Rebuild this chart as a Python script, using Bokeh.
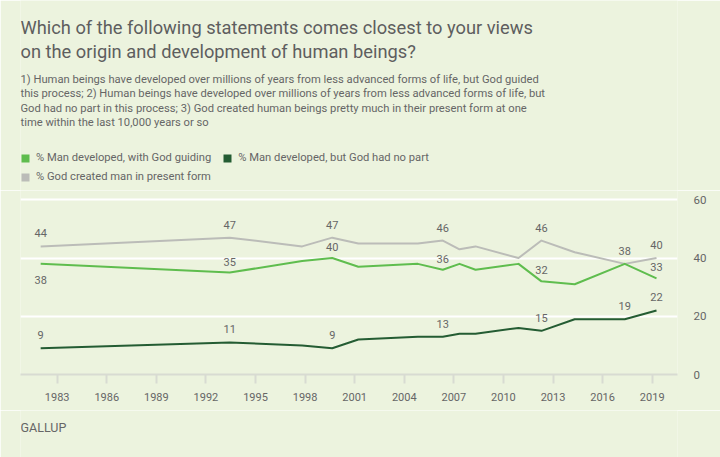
from bokeh.plotting import figure
from bokeh.models import Range1d, Label, Legend, LegendItem, FixedTicker
from bokeh.layouts import column
from bokeh.embed import file_html
from bokeh.resources import INLINE
from bokeh.core.properties import value

# ---- data ----
years = [1982.0, 1993.44, 1997.82, 1999.64, 2001.22, 2004.82, 2006.33, 2007.34,
         2008.31, 2010.91, 2012.30, 2014.31, 2017.34, 2019.26]
god_guided = [38, 35, 39, 40, 37, 38, 36, 38, 36, 38, 32, 31, 38, 33]
no_god = [9, 11, 10, 9, 12, 13, 13, 14, 14, 16, 15, 19, 19, 22]
god_created = [44, 47, 44, 47, 45, 45, 46, 43, 44, 40, 46, 42, 38, 40]
series_names = ["% Man developed, with God guiding",
                "% Man developed, but God had no part",
                "% God created man in present form"]
labels_guided_above = [1, 3, 6, 10, 13]
labels_guided_below = [0]
labels_no_god = [0, 1, 3, 6, 10, 12, 13]
labels_created = [0, 1, 3, 6, 10, 12, 13]
x_ticks = [1983, 1986, 1989, 1992, 1995, 1998, 2001, 2004, 2007, 2010, 2013, 2016, 2019]
y_ticks = [0, 20, 40, 60]
grid_ticks = [20, 40, 60]

title_lines = ["Which of the following statements comes closest to your views",
               "on the origin and development of human beings?"]
subtitle_lines = [
    "1) Human beings have developed over millions of years from less advanced forms of life, but God guided",
    "this process; 2) Human beings have developed over millions of years from less advanced forms of life, but",
    "God had no part in this process; 3) God created human beings pretty much in their present form at one",
    "time within the last 10,000 years or so",
]
source_text = "GALLUP"

# ---- style ----
BG = "#ecf3de"
GREEN = "#5fbd4e"
DARK = "#245c33"
GRAY = "#bbbcb8"
TEXT = "#666666"
TITLE = "#5e5e5e"
AXIS = "#d8dbd2"
FONT = "Roboto"
W = 720
H_HEAD, H_CHART, H_FOOT = 190, 220, 47
LEFT, RIGHT = 20, 677   # frame edges shared by all stacked figures
NAN = float("nan")


def blank(height, y_top):
    f = figure(width=W, height=height, output_backend="svg", toolbar_location=None,
               x_range=Range1d(LEFT, RIGHT), y_range=Range1d(y_top + height, y_top),
               x_axis_location=None, y_axis_location=None,
               min_border_left=LEFT, min_border_right=W - RIGHT,
               min_border_top=0, min_border_bottom=0,
               background_fill_color=BG, border_fill_color=BG, outline_line_color=None)
    f.xgrid.visible = False
    f.ygrid.visible = False
    return f


# ---- header ----
head = blank(H_HEAD, 0)
for i, t in enumerate(title_lines):
    head.add_layout(Label(x=20, y=27.2 + 24 * i, text=t, text_font=FONT, text_font_size="18.3px",
                          text_color=TITLE, text_baseline="middle"))
for i, t in enumerate(subtitle_lines):
    head.add_layout(Label(x=20, y=79.3 + 14.1 * i, text=t, text_font=FONT, text_font_size="11.2px",
                          text_color=TEXT, text_baseline="middle"))

# legend proxies (no visible marks)
r_g = head.vbar(x=[NAN], top=[NAN], width=1, fill_color=GREEN, line_color=None)
r_d = head.vbar(x=[NAN], top=[NAN], width=1, fill_color=DARK, line_color=None)
r_c = head.vbar(x=[NAN], top=[NAN], width=1, fill_color=GRAY, line_color=None)


def make_legend(items, loc):
    return Legend(items=items, orientation="horizontal", location=loc,
                  glyph_width=10, glyph_height=10, label_height=10, label_standoff=6,
                  spacing=11, padding=0, margin=0, border_line_color=None,
                  background_fill_alpha=0, label_text_font=FONT,
                  label_text_font_size="11.2px", label_text_color=TEXT)


head.add_layout(make_legend([LegendItem(label=series_names[0], renderers=[r_g]),
                             LegendItem(label=series_names[1], renderers=[r_d])], (0, 26)))
head.add_layout(make_legend([LegendItem(label=series_names[2], renderers=[r_c])], (0, 7)))

# ---- chart ----
p = figure(width=W, height=H_CHART, output_backend="svg", toolbar_location=None,
           x_range=Range1d(1980.78, 2020.53), y_range=Range1d(0, 63.2),
           y_axis_location="right",
           min_border_left=LEFT, min_border_right=W - RIGHT, min_border_top=0, min_border_bottom=36,
           background_fill_color=BG, border_fill_color=BG, outline_line_color=None)

xa = p.xaxis[0]
xa.ticker = FixedTicker(ticks=x_ticks)
xa.axis_line_color = AXIS
xa.axis_line_width = 2
xa.major_tick_line_color = AXIS
xa.major_tick_line_width = 2
xa.major_tick_in = 0
xa.major_tick_out = 9
xa.minor_tick_line_color = None
xa.major_label_standoff = 9
xa.major_label_text_font = FONT
xa.major_label_text_font_size = "11px"
xa.major_label_text_color = TEXT

ya = p.yaxis[0]
ya.ticker = FixedTicker(ticks=y_ticks)
ya.axis_line_color = None
ya.major_tick_line_color = None
ya.minor_tick_line_color = None
ya.major_label_standoff = 10
ya.major_label_text_font = FONT
ya.major_label_text_font_size = "11.5px"
ya.major_label_text_color = TEXT

p.xgrid.visible = False
p.ygrid.ticker = FixedTicker(ticks=grid_ticks)
p.ygrid.grid_line_color = "white"
p.ygrid.grid_line_width = 2

for vals, col in [(god_created, GRAY), (god_guided, GREEN), (no_god, DARK)]:
    p.line(years, vals, line_color=col, line_width=2, line_join="round")


def add_labels(vals, idx, offset):
    p.text(x=[years[i] for i in idx], y=[vals[i] for i in idx],
           text=[str(vals[i]) for i in idx],
           text_align="center", text_baseline="middle", y_offset=offset,
           text_font=value(FONT), text_font_size="11px", text_color=TEXT)


add_labels(god_created, labels_created, -13)
add_labels(god_guided, labels_guided_above, -11)
add_labels(god_guided, labels_guided_below, 16.5)
add_labels(no_god, labels_no_god, -13)

# ---- footer ----
foot = blank(H_FOOT, H_HEAD + H_CHART)
foot.add_layout(Label(x=20, y=426.8, text=source_text, text_font=FONT, text_font_size="12.5px",
                      text_color=TEXT, text_baseline="middle"))

layout = column(head, p, foot, spacing=0)
open("out.html", "w").write(file_html(layout, INLINE))
